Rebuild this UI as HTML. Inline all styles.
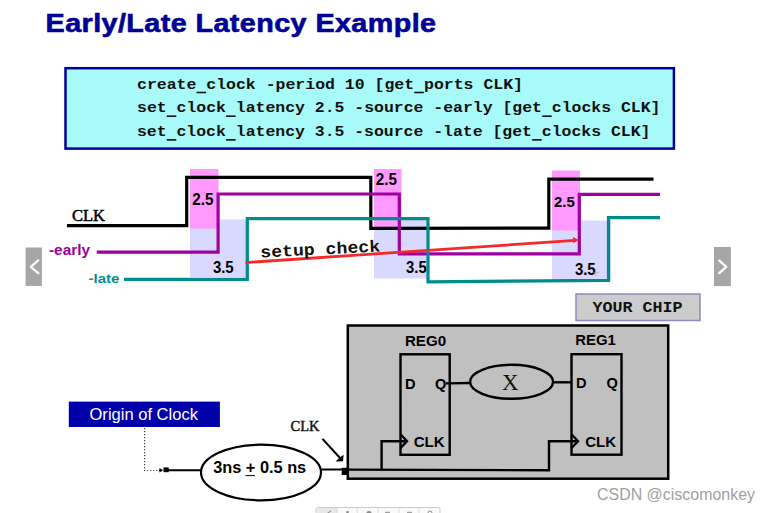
<!DOCTYPE html>
<html><head><meta charset="utf-8">
<style>
html,body{margin:0;padding:0;background:#fff;width:771px;height:513px;overflow:hidden}
svg{display:block}
.sans{font-family:"Liberation Sans",sans-serif}
.mono{font-family:"Liberation Mono",monospace}
.serif{font-family:"Liberation Serif",serif}
</style></head><body>
<svg width="771" height="513" viewBox="0 0 771 513">
<!-- Title -->
<text class="sans" transform="scale(1.14,1)" x="40.00" y="31.6" font-size="25.2" font-weight="bold" fill="#000096" stroke="#000096" stroke-width="0.6" textLength="342.54" lengthAdjust="spacing">Early/Late Latency Example</text>

<!-- Code box -->
<rect x="65.5" y="68.2" width="608.4" height="80.4" fill="#A8FAF8" stroke="#000099" stroke-width="2.5"/>
<g class="mono" font-weight="bold" font-size="14.6" fill="#111">
<text x="137" y="88.6" textLength="386" lengthAdjust="spacingAndGlyphs">create<tspan dy="2.4">_</tspan><tspan dy="-2.4">clock -period 10 [get</tspan><tspan dy="2.4">_</tspan><tspan dy="-2.4">ports CLK]</tspan></text>
<text x="137" y="112.3" textLength="523.5" lengthAdjust="spacingAndGlyphs">set<tspan dy="2.4">_</tspan><tspan dy="-2.4">clock</tspan><tspan dy="2.4">_</tspan><tspan dy="-2.4">latency 2.5 -source -early [get</tspan><tspan dy="2.4">_</tspan><tspan dy="-2.4">clocks CLK]</tspan></text>
<text x="137" y="136" textLength="513.5" lengthAdjust="spacingAndGlyphs">set<tspan dy="2.4">_</tspan><tspan dy="-2.4">clock</tspan><tspan dy="2.4">_</tspan><tspan dy="-2.4">latency 3.5 -source -late [get</tspan><tspan dy="2.4">_</tspan><tspan dy="-2.4">clocks CLK]</tspan></text>
<rect x="196.7" y="91.7" width="9.3" height="1.6"/>
<rect x="414.4" y="91.7" width="9.3" height="1.6"/>
<rect x="166.9" y="115.4" width="9.3" height="1.6"/>
<rect x="226.2" y="115.4" width="9.3" height="1.6"/>
<rect x="542.3" y="115.4" width="9.3" height="1.6"/>
<rect x="166.9" y="139.1" width="9.3" height="1.6"/>
<rect x="226.2" y="139.1" width="9.3" height="1.6"/>
<rect x="532.3" y="139.1" width="9.3" height="1.6"/>
</g>

<!-- Timing shaded regions -->
<g>
<rect x="190" y="219.5" width="56" height="57.5" fill="#D9D9FF"/>
<rect x="190" y="169" width="28.5" height="59.5" fill="#FF99FF"/>
<rect x="374" y="218.5" width="55" height="60" fill="#D9D9FF"/>
<rect x="374" y="169" width="27.5" height="59.5" fill="#FF99FF"/>
<rect x="552" y="220.5" width="59" height="60" fill="#D9D9FF"/>
<rect x="552" y="170.5" width="28" height="60" fill="#FF99FF"/>
</g>

<!-- waveform labels -->
<text class="serif" x="72" y="220.9" font-size="17" fill="#000" stroke="#000" stroke-width="0.55" textLength="33" lengthAdjust="spacingAndGlyphs">CLK</text>
<text class="sans" x="49" y="254.8" font-size="14" font-weight="bold" fill="#990099" textLength="41" lengthAdjust="spacingAndGlyphs">-early</text>
<text class="sans" x="88.5" y="282.8" font-size="13.7" font-weight="bold" fill="#009090" textLength="31" lengthAdjust="spacingAndGlyphs">-late</text>

<g class="sans" font-size="15.6" font-weight="bold" fill="#000">
<text x="192.3" y="204.6" textLength="21.2" lengthAdjust="spacingAndGlyphs">2.5</text>
<text x="212.9" y="272.6" textLength="20.8" lengthAdjust="spacingAndGlyphs">3.5</text>
<text x="375.8" y="184.8" textLength="21.2" lengthAdjust="spacingAndGlyphs">2.5</text>
<text x="406.1" y="272.7" textLength="20.6" lengthAdjust="spacingAndGlyphs">3.5</text>
<text x="554" y="206.8" font-size="15.2" textLength="20.8" lengthAdjust="spacingAndGlyphs">2.5</text>
<text x="574.9" y="274.9" textLength="20.8" lengthAdjust="spacingAndGlyphs">3.5</text>
</g>

<!-- waveforms -->
<g fill="none" stroke-width="3.2" stroke-linejoin="miter" stroke-linecap="butt">
<polyline stroke="#000" points="67,225.6 186.7,225.6 186.7,177.3 370.8,177.3 370.8,228.3 548.8,228.2 548.8,179.1 653.5,179.1"/>
<polyline stroke="#A000A0" points="96.7,252.1 218.1,252.1 218.1,194 399.3,194 399.3,253.9 579.3,253.9 579.3,194.3 660,194.3"/>
<polyline stroke="#008C8C" points="124,279.4 247.3,279.4 247.3,218.6 428,218.6 428,281.9 608.5,280.3 608.5,217.7 660,217.7"/>
</g>

<!-- setup check -->
<line x1="245.5" y1="262.6" x2="575" y2="240.4" stroke="#F42A2A" stroke-width="2.8"/>
<polygon points="579,240.1 573,237 573.4,243.2" fill="#F42A2A"/>
<text class="mono" transform="translate(260.5,257.5) rotate(-2.9)" font-size="16.5" font-weight="bold" fill="#111" textLength="120" lengthAdjust="spacingAndGlyphs">setup check</text>

<!-- cursor artifact -->
<g stroke="#9A9AA8" stroke-width="0.8" opacity="0.7"><line x1="592.5" y1="272.3" x2="599.5" y2="272.3"/><line x1="595.8" y1="269" x2="595.8" y2="276"/></g>
<!-- nav buttons -->
<rect x="25.6" y="247.5" width="16.3" height="38.4" fill="#A6A6A6"/>
<polyline points="38.2,260.4 30.8,266.8 38.2,273.1" fill="none" stroke="#fff" stroke-width="2.4" stroke-linecap="round" stroke-linejoin="round"/>
<rect x="714" y="247" width="16.9" height="39.1" fill="#A6A6A6"/>
<polyline points="719.3,260.6 726.3,266.8 719.3,273.1" fill="none" stroke="#fff" stroke-width="2.4" stroke-linecap="round" stroke-linejoin="round"/>

<!-- YOUR CHIP -->
<rect x="576" y="294" width="124" height="26.5" fill="#CCCCCC" stroke="#8C8CC0" stroke-width="1.5"/>
<text class="mono" x="592.5" y="311.5" font-size="14.5" font-weight="bold" fill="#111" textLength="90" lengthAdjust="spacingAndGlyphs">YOUR CHIP</text>

<!-- chip -->
<rect x="347.8" y="325.5" width="320.4" height="153.2" fill="#C0C0C0" stroke="#000" stroke-width="2.5"/>
<g class="sans" font-weight="bold" fill="#000">
<text x="404.9" y="346.1" font-size="14" textLength="41.2" lengthAdjust="spacingAndGlyphs">REG0</text>
<text x="575.3" y="344.8" font-size="14" textLength="40.5" lengthAdjust="spacingAndGlyphs">REG1</text>
<text x="404.9" y="388.9" font-size="14.6">D</text>
<text x="435" y="388.9" font-size="14.6">Q</text>
<text x="576" y="388.3" font-size="14.6">D</text>
<text x="606.5" y="388.3" font-size="14.6">Q</text>
<text x="413.7" y="446.7" font-size="14" textLength="31" lengthAdjust="spacingAndGlyphs">CLK</text>
<text x="585.2" y="447.2" font-size="14" textLength="31" lengthAdjust="spacingAndGlyphs">CLK</text>
</g>
<g fill="none" stroke="#000" stroke-width="2.4">
<rect x="400.5" y="354.3" width="49.2" height="100.5"/>
<rect x="571.5" y="354.2" width="50" height="100.5"/>
<ellipse cx="511.6" cy="381.8" rx="41.5" ry="17"/>
<line x1="446" y1="383.4" x2="470" y2="383"/>
<line x1="553" y1="382.3" x2="571" y2="382.3"/>
<polyline points="400.5,434.2 407,441.2 400.5,448"/>
<polyline points="571.5,434.3 578,441.3 571.5,448"/>
<polyline points="342,469.6 549,470.2 549,441.3 576,441.3"/>
<polyline points="381.6,469.8 381.6,441.2 405,441.2"/>
</g>
<text class="serif" x="502" y="389.9" font-size="23" fill="#111" textLength="16.5" lengthAdjust="spacingAndGlyphs">X</text>

<!-- Origin of clock -->
<rect x="68.8" y="401.6" width="151.1" height="25.4" fill="#0000AA"/>
<text class="sans" x="89.5" y="420.4" font-size="16.3" fill="#fff" textLength="108.5" lengthAdjust="spacingAndGlyphs">Origin of Clock</text>
<polyline points="144.6,428 144.6,470.5 160,470.5" fill="none" stroke="#444" stroke-width="1.2" stroke-dasharray="1.2 1.8"/>
<polygon points="163.2,470.2 159.4,467.9 159.4,472.4" fill="#000"/>
<rect x="163.5" y="467.4" width="5.2" height="4.8" fill="#000"/>
<line x1="168" y1="470.3" x2="201" y2="470.3" stroke="#000" stroke-width="2"/>
<ellipse cx="261" cy="472.5" rx="60" ry="27.8" fill="#fff" stroke="#000" stroke-width="2.2"/>
<text class="sans" x="213.2" y="473.3" font-size="16" font-weight="bold" fill="#000" textLength="93" lengthAdjust="spacingAndGlyphs">3ns + 0.5 ns</text>
<line x1="245.5" y1="475.6" x2="255" y2="475.6" stroke="#000" stroke-width="1"/>
<line x1="321.5" y1="469.5" x2="342" y2="469.5" stroke="#000" stroke-width="2"/>
<rect x="341.7" y="467.8" width="7.2" height="7.2" fill="#000"/>
<text class="serif" x="290.5" y="431" font-size="14.5" fill="#111" stroke="#111" stroke-width="0.45" textLength="29" lengthAdjust="spacingAndGlyphs">CLK</text>
<line x1="322.5" y1="438.9" x2="340" y2="458" stroke="#000" stroke-width="2.1"/>
<polygon points="343,461.2 343.6,454.8 339.8,457.6 335.5,461.6" fill="#000"/>

<!-- watermark -->
<text class="sans" x="597" y="500.3" font-size="15.8" fill="#A0A0A0" textLength="158" lengthAdjust="spacingAndGlyphs">CSDN @ciscomonkey</text>

<!-- toolbar -->
<rect x="316" y="507.5" width="124" height="8" rx="1.5" fill="#FAFAFA" stroke="#CACACA" stroke-width="1"/>
<rect x="316.5" y="508.2" width="20.5" height="5" fill="#E8E8E8"/>
<g stroke="#DCDCDC" stroke-width="1">
<line x1="337.2" y1="508" x2="337.2" y2="513"/>
<line x1="357.3" y1="508" x2="357.3" y2="513"/>
<line x1="378" y1="508" x2="378" y2="513"/>
<line x1="399" y1="508" x2="399" y2="513"/>
<line x1="419" y1="508" x2="419" y2="513"/>
</g>
<g fill="#8A8A8A" stroke="none">
<path d="M326.5,513.5 L330.5,510.5 L331.2,511.3 L328,513.5 Z"/>
<circle cx="347.5" cy="512.3" r="1.3"/>
<ellipse cx="369" cy="513" rx="2.6" ry="2"/>
<rect x="385" y="511.8" width="5" height="1"/>
<rect x="407" y="511.8" width="5" height="1"/>
</g>
<circle cx="430" cy="513" r="2" fill="none" stroke="#8A8A8A" stroke-width="1"/>
</svg>
</body></html>
